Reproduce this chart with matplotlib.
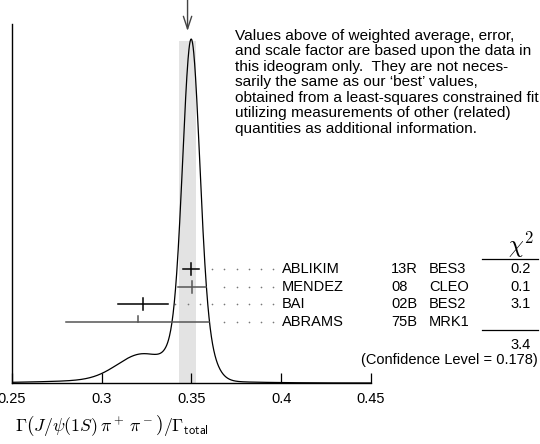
import numpy as np
import matplotlib
matplotlib.use('Agg')
import matplotlib.pyplot as plt

plt.rcParams['font.family'] = ['Liberation Sans', 'DejaVu Sans']
plt.rcParams['mathtext.fontset'] = 'cm'

# measurements (PDG ideogram)
names = ['ABLIKIM', 'MENDEZ', 'BAI', 'ABRAMS']
years = ['13R', '08', '02B', '75B']
expts = ['BES3', 'CLEO', 'BES2', 'MRK1']
values = [0.3498, 0.3504, 0.323, 0.32]
errors = [0.0045, 0.0077, 0.014, 0.04]
chi2 = ['0.2', '0.1', '3.1', '']
bar_colors = ['black', '#555555', 'black', '#555555']
chi2_total = '3.4'
conf_level = '0.178'
avg = 0.3478
avg_err = 0.0049
xticks = [0.25, 0.3, 0.35, 0.4, 0.45]
xticklabels = ['0.25', '0.3', '0.35', '0.4', '0.45']

W, H = 540, 444
fig = plt.figure(figsize=(W / 100, H / 100), dpi=100)


def px(x, y):
    return x / W, 1 - y / H


ax_l, ax_b, ax_r, ax_t = 12, 383, 371, 24
ax = fig.add_axes([ax_l / W, 1 - ax_b / H, (ax_r - ax_l) / W, (ax_b - ax_t) / H])
ax.set_xlim(0.25, 0.45)
ax.set_ylim(0, 1)
ax_h = ax_b - ax_t


def fx(x):
    # pixel x -> axes fraction
    return (x - ax_l) / (ax_r - ax_l)


# ideogram curve: each measurement a gaussian of width err, area ~ 1/err
xs = np.linspace(0.25, 0.45, 1200)
ideo = np.zeros_like(xs)
for v, e in zip(values, errors):
    ideo += np.exp(-0.5 * ((xs - v) / e) ** 2) / e ** 2
ideo = ideo / ideo.max() * 0.958
ax.plot(xs, ideo, color='black', lw=0.9, zorder=3)

# weighted average band + arrow
ax.axvspan(avg - avg_err, avg + avg_err, ymax=(ax_b - 41) / ax_h,
           color='#e3e3e3', lw=0, zorder=0)
ax.annotate('', xy=(avg, (ax_b - 31) / ax_h), xytext=(avg, (ax_b + 2) / ax_h),
            xycoords=('data', 'axes fraction'), annotation_clip=False,
            arrowprops=dict(arrowstyle='->,head_length=0.9,head_width=0.3',
                            lw=1.0, color='#444444', shrinkA=0, shrinkB=0))

# measurements
row0 = (ax_b - 269) / ax_h
drow = 17.7 / ax_h
tick_h = 6 / ax_h
fs = 10.5
for i, (v, e) in enumerate(zip(values, errors)):
    y = row0 - i * drow
    c = bar_colors[i]
    ax.plot([v - e, v + e], [y, y], color=c, lw=1.1, zorder=4)
    if i == 3:
        ax.plot([v, v], [y, y + tick_h], color=c, lw=1.1, zorder=4)
    else:
        ax.plot([v, v], [y - tick_h, y + tick_h], color=c, lw=1.1, zorder=4)
    # dotted leader on a common grid
    dots = 0.3956 - 0.00683 * np.arange(0, 40)
    dots = dots[dots > v + e + 0.0036]
    ax.plot(dots, np.full_like(dots, y), ls='none', marker='o', ms=1.2,
            color='#777777', mec='none', zorder=2)
    ax.text(fx(282), y, names[i], transform=ax.transAxes, va='center', ha='left', fontsize=fs)
    ax.text(fx(391), y, years[i], transform=ax.transAxes, va='center', ha='left', fontsize=fs)
    ax.text(fx(429), y, expts[i], transform=ax.transAxes, va='center', ha='left', fontsize=fs)
    ax.text(fx(521), y, chi2[i], transform=ax.transAxes, va='center', ha='center', fontsize=fs)

# chi2 column header and sum
fig.text(*px(521, 245), r'$\chi^2$', ha='center', va='center', fontsize=17)
fig.add_artist(plt.Line2D([482 / W, 538 / W], [1 - 259 / H, 1 - 259 / H], color='black', lw=0.9))
fig.add_artist(plt.Line2D([482 / W, 538 / W], [1 - 330 / H, 1 - 330 / H], color='black', lw=0.9))
fig.text(*px(521, 345), chi2_total, ha='center', va='center', fontsize=fs)
fig.text(*px(538, 360), '(Confidence Level = %s)' % conf_level, ha='right', va='center', fontsize=fs)

# note
note = ("Values above of weighted average, error,\n"
        "and scale factor are based upon the data in\n"
        "this ideogram only.  They are not neces-\n"
        "sarily the same as our \u2018best\u2019 values,\n"
        "obtained from a least-squares constrained fit\n"
        "utilizing measurements of other (related)\n"
        "quantities as additional information.")
fig.text(*px(235, 29), note, ha='left', va='top', fontsize=11.1, linespacing=1.13)

# axes styling
for s in ['top', 'right']:
    ax.spines[s].set_visible(False)
ax.spines['left'].set_linewidth(1.0)
ax.spines['bottom'].set_linewidth(1.0)
ax.set_yticks([])
ax.set_xticks(xticks)
ax.set_xticklabels(xticklabels, fontsize=fs)
ax.tick_params(axis='x', direction='in', length=7.2, width=0.9, pad=6.5)

fig.text(*px(15, 425), r'$\Gamma\left(J/\psi(1S)\,\pi^+\,\pi^-\right)/\Gamma_{\mathsf{total}}$',
         ha='left', va='center', fontsize=12.8)

fig.savefig('out.png', dpi=100)
